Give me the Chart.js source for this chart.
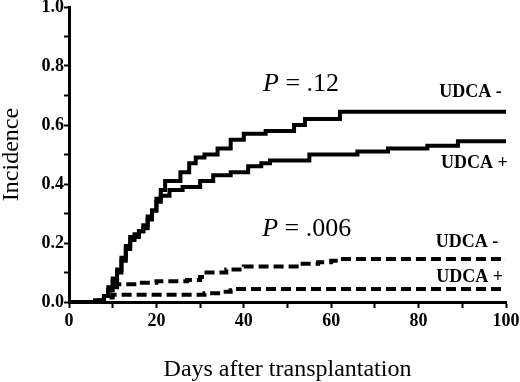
<!DOCTYPE html>
<html>
<head>
<meta charset="utf-8">
<script src="https://cdn.jsdelivr.net/npm/chart.js@4"></script>
<style>
  html, body { margin: 0; padding: 0; background: #fff; }
  #wrap { width: 520px; height: 382px; }
</style>
</head>
<body>
<div id="wrap"><canvas id="incidence_chart"></canvas></div>
<script>
// upper pair (solid lines)
const solidMinusDays = [0, 6, 8, 9, 10, 11, 12, 13, 14, 15, 16, 17, 18, 19, 20, 21, 22, 25.5, 27.5, 29, 31, 34, 37, 40, 45, 51.5, 54, 62, 100];
const solidMinusInc  = [0, 0.005, 0.02, 0.04, 0.07, 0.10, 0.14, 0.18, 0.21, 0.23, 0.24, 0.26, 0.29, 0.31, 0.35, 0.38, 0.41, 0.44, 0.47, 0.49, 0.50, 0.52, 0.55, 0.57, 0.58, 0.60, 0.62, 0.645, 0.645];

const solidPlusDays = [0, 6, 8, 9, 10, 11, 12, 13, 14, 16, 17, 18, 19, 20, 21, 23, 26, 30, 33, 37, 41, 44, 46, 55, 66, 73, 82, 89, 100];
const solidPlusInc  = [0, 0.005, 0.02, 0.05, 0.08, 0.11, 0.15, 0.19, 0.22, 0.24, 0.25, 0.28, 0.31, 0.34, 0.36, 0.38, 0.39, 0.41, 0.43, 0.44, 0.46, 0.47, 0.48, 0.50, 0.51, 0.52, 0.53, 0.545, 0.545];

// lower pair (dashed lines)
const dashMinusDays = [0, 7, 8, 9, 10, 11, 16, 20, 27, 30, 31, 36, 40, 53, 57, 60, 62, 100];
const dashMinusInc  = [0, 0.005, 0.02, 0.04, 0.05, 0.06, 0.065, 0.07, 0.075, 0.085, 0.10, 0.11, 0.12, 0.13, 0.135, 0.14, 0.146, 0.146];

const dashPlusDays = [0, 7, 8, 10, 30, 31, 35, 37, 38, 100];
const dashPlusInc  = [0, 0.005, 0.015, 0.025, 0.025, 0.03, 0.035, 0.04, 0.044, 0.044];

const xTicks = [0, 20, 40, 60, 80, 100];
const yTicks = [0.0, 0.2, 0.4, 0.6, 0.8, 1.0];

function toPoints(days, vals) {
  return days.map((d, i) => ({ x: d, y: vals[i] }));
}

const SERIF = "'Liberation Serif', 'DejaVu Serif', serif";

// text written on the plot: [text, day, incidence]
const notes = [
  ["UDCA -", 99, 0.712],
  ["UDCA +", 100.4, 0.471],
  ["UDCA -", 98.2, 0.203],
  ["UDCA +", 99.3, 0.085]
];
const pNotes = [
  [".12", 44.4, 0.74],
  [".006", 44.2, 0.246]
];

const notePlugin = {
  id: "notes",
  afterDatasetsDraw(chart) {
    const ctx = chart.ctx, xs = chart.scales.x, ys = chart.scales.y;
    ctx.save();
    ctx.fillStyle = "#000";
    ctx.textBaseline = "middle";
    ctx.font = "bold 18px " + SERIF;
    ctx.textAlign = "right";
    notes.forEach(n => {
      ctx.fillText(n[0], xs.getPixelForValue(n[1]), ys.getPixelForValue(n[2]));
    });
    ctx.textAlign = "left";
    pNotes.forEach(n => {
      let x = xs.getPixelForValue(n[1]);
      const y = ys.getPixelForValue(n[2]);
      ctx.font = "italic 26px " + SERIF;
      ctx.fillText("P", x, y);
      x += ctx.measureText("P").width;
      ctx.font = "26px " + SERIF;
      ctx.fillText(" = " + n[0], x, y);
    });
    ctx.restore();
  }
};

const lineStyle = {
  borderColor: "#000",
  borderWidth: 4,
  pointRadius: 0,
  stepped: "before",
  fill: false,
  borderJoinStyle: "miter"
};

document.addEventListener("DOMContentLoaded", function() {
  const context = document.getElementById("incidence_chart").getContext("2d");
  new Chart(context, {
    type: "scatter",
    data: {
      datasets: [
        Object.assign({ label: "UDCA - (solid)", data: toPoints(solidMinusDays, solidMinusInc), showLine: true }, lineStyle),
        Object.assign({ label: "UDCA + (solid)", data: toPoints(solidPlusDays, solidPlusInc), showLine: true }, lineStyle),
        Object.assign({ label: "UDCA - (dashed)", data: toPoints(dashMinusDays, dashMinusInc), showLine: true, borderDash: [10, 5] }, lineStyle),
        Object.assign({ label: "UDCA + (dashed)", data: toPoints(dashPlusDays, dashPlusInc), showLine: true, borderDash: [10, 5] }, lineStyle)
      ]
    },
    options: {
      responsive: true,
      maintainAspectRatio: false,
      animation: false,
      layout: { padding: { top: 7, right: 14, left: 0, bottom: 0 } },
      plugins: {
        legend: { display: false },
        tooltip: { enabled: false }
      },
      scales: {
        x: {
          type: "linear",
          min: 0, max: 100,
          afterFit(scale) {
            scale.height = 80;
            scale.paddingLeft = 0;
            scale.paddingRight = 0;
          },
          afterBuildTicks(scale) {
            const t = [];
            for (let v = 0; v <= 100; v += 10) t.push({ value: v });
            scale.ticks = t;
          },
          ticks: {
            color: "#000",
            padding: 3,
            maxRotation: 0,
            autoSkip: false,
            font: { family: SERIF, size: 18, weight: "bold" },
            callback: v => (xTicks.includes(v) ? String(v) : "")
          },
          grid: { drawOnChartArea: false, drawTicks: true, tickLength: 6, tickWidth: 2, color: "#000" },
          border: { color: "#000", width: 3 },
          title: {
            display: true,
            text: "Days after transplantation",
            color: "#000",
            padding: 0,
            font: { family: SERIF, size: 24, lineHeight: 1 }
          }
        },
        y: {
          type: "linear",
          min: 0, max: 1,
          afterFit(scale) {
            scale.width = 69;
            scale.paddingTop = 0;
            scale.paddingBottom = 0;
          },
          afterBuildTicks(scale) {
            const t = [];
            for (let k = 0; k <= 10; k++) t.push({ value: k / 10 });
            scale.ticks = t;
          },
          ticks: {
            color: "#000",
            padding: 0,
            autoSkip: false,
            font: { family: SERIF, size: 18, weight: "bold" },
            callback: v => {
              const r = Math.round(v * 10) / 10;
              return yTicks.some(t => Math.abs(t - r) < 1e-9) ? r.toFixed(1) : "";
            }
          },
          grid: { drawOnChartArea: false, drawTicks: true, tickLength: 5, tickWidth: 2, color: "#000" },
          border: { color: "#000", width: 3 },
          title: {
            display: true,
            text: "Incidence",
            color: "#000",
            padding: 0,
            font: { family: SERIF, size: 24, lineHeight: 1 }
          }
        }
      }
    },
    plugins: [notePlugin]
  });
});
</script>
</body>
</html>
